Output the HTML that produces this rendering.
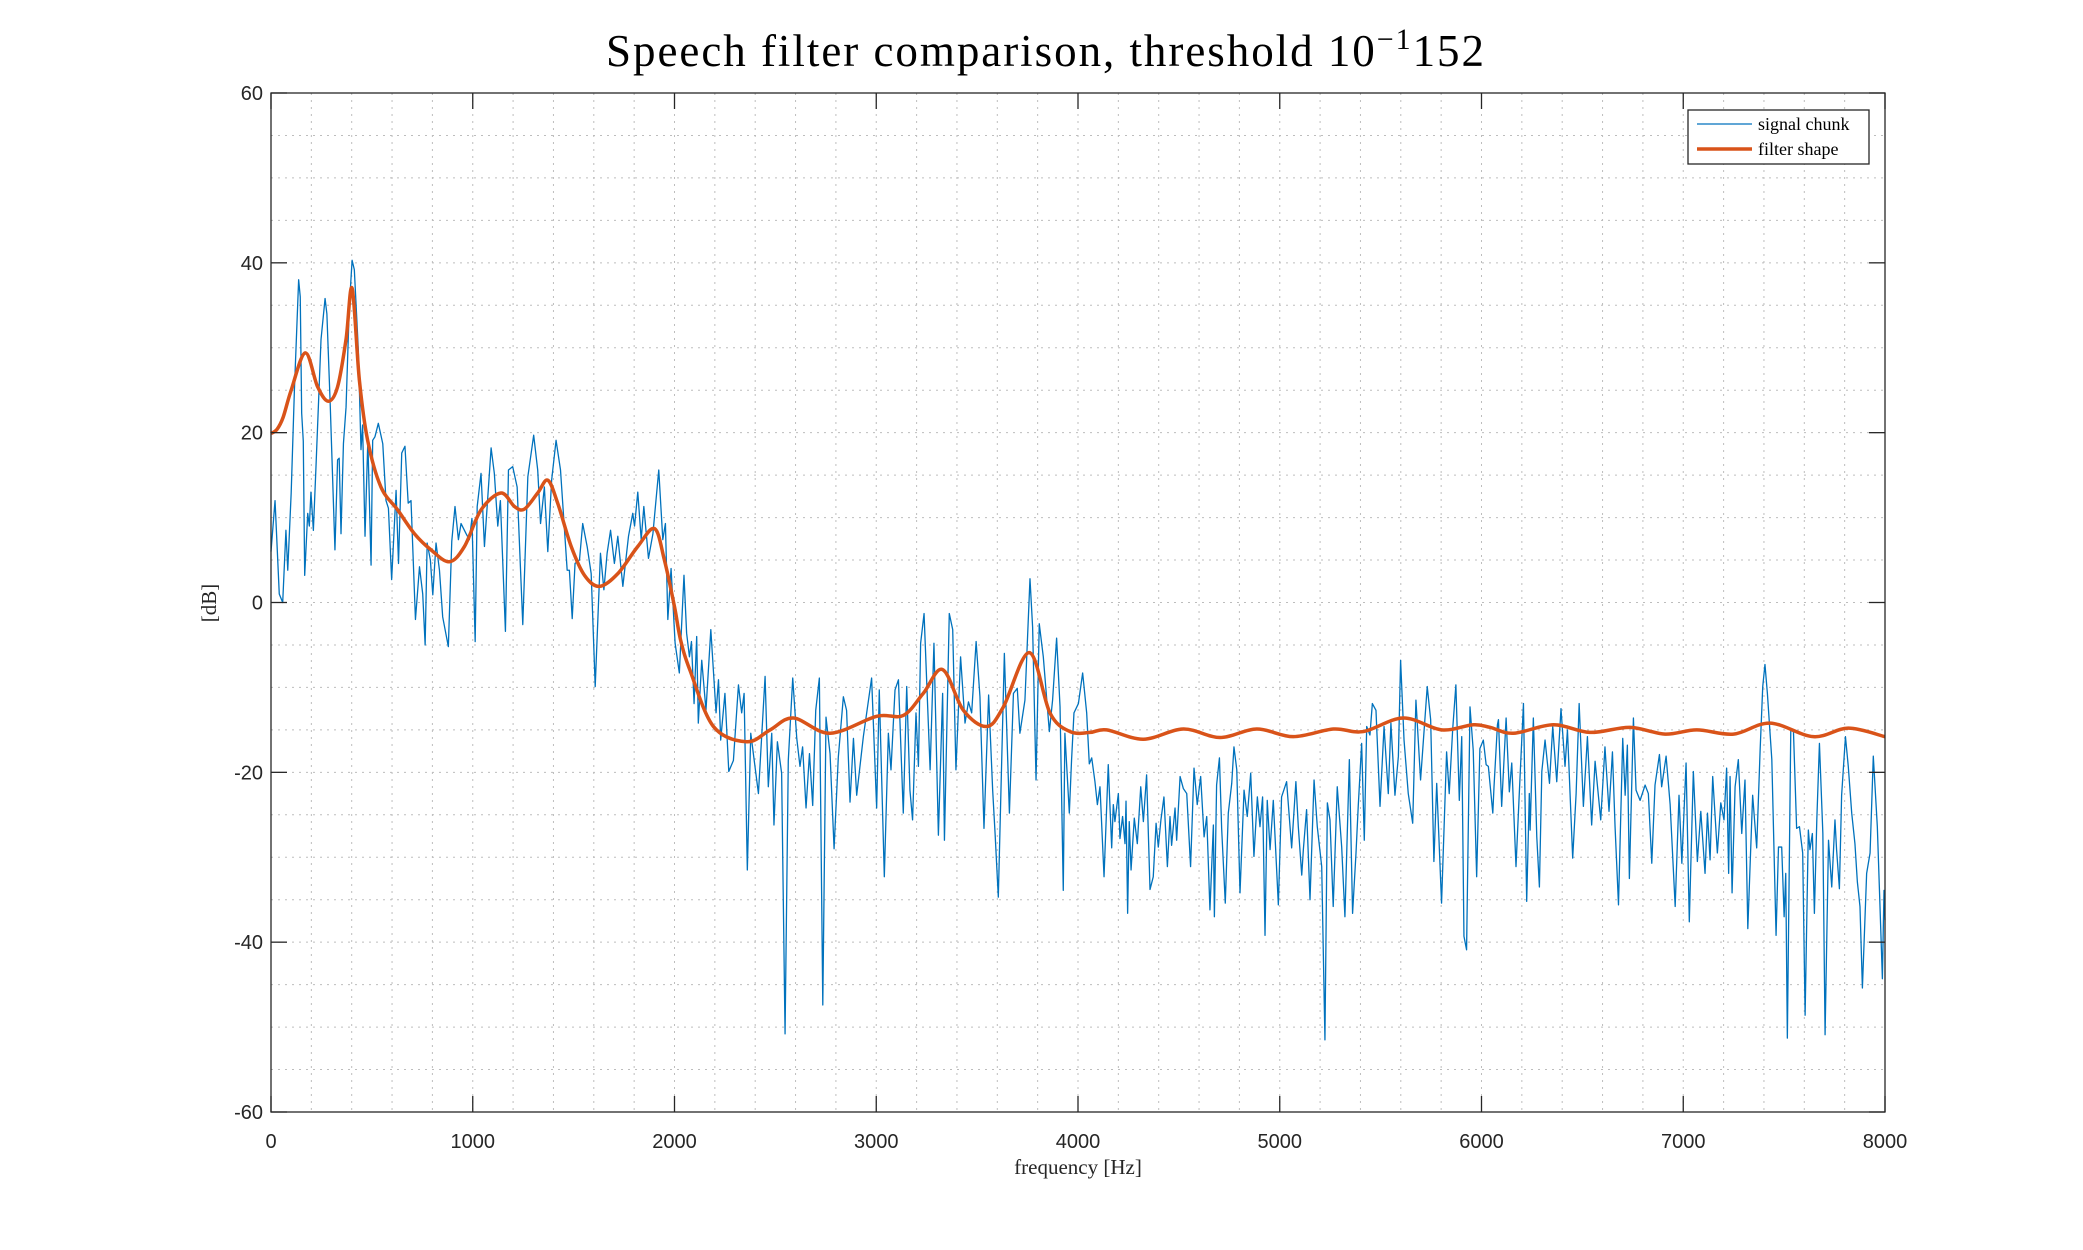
<!DOCTYPE html>
<html><head><meta charset="utf-8"><style>
html,body{margin:0;padding:0;background:#fff;}
svg{display:block;}
</style></head><body>
<svg id="chart" width="2083" height="1250" viewBox="0 0 2083 1250" xmlns="http://www.w3.org/2000/svg">
<rect x="0" y="0" width="2083" height="1250" fill="#fff"/>
<text x="606" y="66" textLength="878" lengthAdjust="spacing" font-family="Liberation Serif, serif" font-size="45" fill="#000">Speech filter comparison, threshold 10<tspan dy="-17" font-size="30">−1</tspan><tspan dy="17">152</tspan></text>
<g id="grid"></g>
<g id="series"></g>
<g id="axes"></g>
<text x="1078" y="1174" text-anchor="middle" font-family="Liberation Serif, serif" font-size="21" fill="#262626">frequency [Hz]</text>
<text transform="translate(216,603) rotate(-90)" text-anchor="middle" font-family="Liberation Serif, serif" font-size="21" fill="#262626">[dB]</text>
<g>
<rect x="1688" y="110" width="181" height="54" fill="#fff" stroke="#262626" stroke-width="1.3"/>
<line x1="1697" y1="124" x2="1752" y2="124" stroke="#0072BD" stroke-width="1.3"/>
<text x="1758" y="130" font-family="Liberation Serif, serif" font-size="18" fill="#000">signal chunk</text>
<line x1="1697" y1="149" x2="1752" y2="149" stroke="#D95319" stroke-width="3.5"/>
<text x="1758" y="155" font-family="Liberation Serif, serif" font-size="18" fill="#000">filter shape</text>
</g>
</svg>
<script>
const xTicks=[0,1000,2000,3000,4000,5000,6000,7000,8000];
const yTicks=[-60,-40,-20,0,20,40,60];
const sigFreq=[0,20,41,58,74,83,100,116,137,145,152,160,167,182,190,198,210,223,248,268,277,294,317,330,338,347,359,372,388,402,413,433,446,454,466,480,496,504,515,532,554,570,582,598,620,632,648,664,680,694,716,736,752,764,774,790,802,818,835,851,879,896,912,929,942,967,983,996,1012,1022,1041,1058,1091,1107,1124,1137,1162,1177,1198,1220,1248,1273,1302,1322,1336,1355,1372,1391,1413,1435,1468,1479,1493,1507,1529,1545,1567,1587,1607,1633,1650,1666,1683,1702,1719,1744,1772,1793,1802,1818,1835,1848,1871,1893,1922,1942,1955,1967,1983,2003,2024,2047,2060,2074,2084,2097,2110,2118,2135,2156,2180,2206,2218,2229,2250,2269,2292,2317,2333,2345,2361,2378,2416,2449,2465,2482,2493,2510,2531,2548,2564,2586,2606,2622,2635,2652,2669,2685,2700,2718,2735,2751,2771,2791,2812,2837,2853,2870,2887,2903,2936,2977,3002,3015,3040,3060,3073,3093,3110,3134,3151,3167,3180,3197,3209,3220,3237,3267,3286,3308,3329,3338,3362,3379,3395,3418,3440,3457,3473,3495,3514,3534,3557,3577,3589,3605,3635,3660,3680,3699,3712,3737,3762,3775,3792,3808,3828,3858,3874,3894,3911,3927,3935,3957,3968,3980,4002,4023,4043,4056,4068,4084,4096,4109,4129,4150,4167,4175,4183,4200,4208,4221,4233,4238,4246,4254,4263,4279,4294,4311,4324,4340,4357,4373,4387,4398,4411,4426,4443,4456,4464,4481,4489,4506,4522,4539,4558,4575,4591,4608,4625,4638,4654,4671,4676,4687,4701,4712,4730,4745,4762,4773,4787,4803,4823,4839,4856,4872,4889,4902,4915,4927,4938,4952,4968,4993,5009,5034,5059,5080,5092,5109,5117,5133,5150,5170,5186,5208,5224,5236,5249,5265,5285,5307,5323,5345,5361,5378,5389,5406,5419,5431,5447,5459,5477,5497,5517,5538,5551,5571,5588,5599,5616,5637,5659,5675,5698,5731,5748,5764,5778,5802,5827,5840,5857,5873,5890,5902,5913,5926,5943,5959,5976,5992,6009,6023,6034,6056,6062,6079,6084,6100,6122,6138,6150,6171,6188,6208,6224,6237,6241,6257,6274,6287,6299,6315,6337,6353,6373,6394,6414,6426,6452,6469,6484,6505,6525,6546,6563,6591,6612,6632,6649,6662,6679,6700,6712,6723,6733,6753,6766,6786,6811,6827,6844,6860,6882,6893,6915,6935,6960,6979,6993,7014,7030,7050,7070,7087,7108,7120,7133,7146,7169,7186,7202,7215,7225,7232,7242,7257,7273,7290,7306,7320,7344,7364,7381,7394,7405,7417,7439,7460,7472,7488,7500,7508,7516,7533,7546,7562,7576,7592,7604,7620,7628,7640,7650,7662,7675,7692,7703,7720,7736,7752,7760,7774,7785,7804,7818,7835,7851,7863,7876,7888,7909,7926,7942,7962,7972,7987,7995,8000];
const sigDb=[6,12,1,0,8.5,3.8,12.9,25,38,36,22.3,19,3.2,10.5,9,13,8.5,16,31,35.8,34,23,6.2,16.8,17,8.1,18.7,23,34.8,40.3,39.2,29.7,18,20.9,7.8,19.1,4.4,19.1,19.5,21.1,18.7,12,11.1,2.7,13.2,4.6,17.6,18.4,11.7,12,-2,4.2,1,-5,7,5,0.9,7,3.8,-1.7,-5.2,7.2,11.3,7.4,9.3,8.1,7.4,9.9,-4.6,11.3,15.2,6.6,18.2,15.2,9,12,-3.4,15.6,16,13.6,-2.6,14.8,19.7,15.6,9.3,13.6,6,14.4,19.1,15.6,3.8,3.8,-1.9,4.6,5,9.3,6.6,3.4,-9.9,5.8,1.5,5.8,8.5,4.6,7.8,1.9,7.8,10.5,9,13,7.4,11.3,5.2,8.1,15.6,7.4,9.3,-2,4,-4.8,-8.3,3.2,-3.6,-6.4,-4.6,-11.9,-4,-14.2,-6.8,-12.7,-3.2,-13,-9.1,-16.2,-10.7,-19.9,-18.6,-9.7,-13,-10.7,-31.5,-15.4,-22.5,-8.7,-21.7,-15.4,-26.2,-16.4,-20.1,-50.8,-18.6,-8.9,-16,-19.3,-17,-24.2,-17.8,-23.9,-12.7,-8.9,-47.4,-13.5,-17.8,-29,-18.2,-11.1,-12.7,-23.5,-16,-22.7,-15.8,-8.9,-24.2,-10.3,-32.3,-15.4,-19.7,-10.3,-9.1,-24.8,-9.9,-22.1,-25.6,-13,-19.3,-4.8,-1.3,-19.7,-4.8,-27.4,-10.7,-28,-1.3,-3.2,-19.7,-6.4,-14.2,-11.7,-13,-4.6,-11.1,-26.6,-10.9,-22.1,-27.2,-34.7,-6,-24.8,-10.7,-10.1,-15.4,-11.5,2.8,-2.9,-20.9,-2.5,-6.4,-15.2,-11.5,-4.2,-12.3,-33.9,-15.4,-24.8,-18.6,-13,-11.9,-8.3,-13,-19,-18.3,-21.1,-23.8,-21.7,-32.3,-19.1,-28.9,-23.8,-25.8,-22.5,-27.8,-25.2,-28.4,-23.4,-36.6,-25.8,-31.5,-25.4,-28.4,-21.7,-25.8,-20.3,-33.8,-32.3,-26,-28.8,-25.6,-22.9,-31.1,-25.2,-28.6,-24.2,-28,-20.5,-21.9,-22.5,-31.1,-19.5,-23.8,-20.5,-27.6,-25.2,-36.2,-26.2,-37,-21.5,-18.3,-26.6,-35.4,-24.8,-21.3,-17,-19.7,-34.2,-22.1,-25.2,-20.1,-29.9,-22.9,-26.4,-22.9,-39.2,-23.3,-29.1,-23.3,-35.6,-22.9,-21.1,-28.9,-21.1,-26.4,-32.1,-29.1,-24.4,-35,-20.9,-26.4,-31.1,-51.5,-23.6,-25.6,-35.8,-21.7,-28.8,-37,-18.5,-36.6,-29.5,-24,-16.6,-28,-14.6,-15.6,-11.9,-12.7,-24,-14.6,-22.5,-14.2,-22.7,-18.1,-6.8,-16.2,-22.5,-26,-11.5,-20.9,-9.9,-13.8,-30.5,-21.3,-35.4,-17.6,-22.5,-15,-9.7,-23.3,-15.8,-39.3,-40.9,-12.3,-17.4,-32.3,-17.2,-16.2,-19.1,-19.3,-24.8,-21.7,-14.4,-13.8,-24,-13.6,-22.3,-18.9,-31.1,-22.1,-11.9,-35.2,-22.5,-26.8,-13.6,-27.6,-33.5,-19.9,-16.2,-21.3,-14.6,-21.1,-12.5,-19.3,-15,-30.1,-22.5,-11.9,-24,-15.8,-26.2,-18.7,-25.6,-17,-24.6,-17.6,-26.4,-35.6,-16,-22.7,-16.8,-32.5,-13.6,-22.1,-23.3,-21.5,-22.5,-30.7,-21.5,-17.9,-21.7,-18.1,-23.8,-35.8,-22.7,-30.7,-18.9,-37.6,-19.9,-30.5,-24.6,-31.9,-24.8,-30.3,-20.5,-29.5,-23.6,-25.6,-19.5,-31.9,-20.5,-34.2,-21.7,-18.5,-27.2,-20.9,-38.4,-22.7,-28.9,-17.4,-9.9,-7.3,-10.7,-18.5,-39.2,-28.8,-28.8,-37,-31.9,-51.3,-15,-15,-26.6,-26.4,-29.5,-48.6,-26.8,-29.1,-27.2,-36.6,-25.6,-16.6,-27.2,-50.9,-28,-33.5,-25.6,-29.1,-33.7,-22.7,-15.8,-19.3,-24.8,-28.4,-32.9,-35.8,-45.4,-31.9,-29.5,-18.1,-26.4,-33.5,-44.3,-33.9,-37.4];
const filtFreq=[0,30,60,100,170,231,284,330,372,402,438,479,545,628,711,793,884,959,1041,1140,1207,1256,1322,1372,1421,1488,1554,1628,1719,1818,1901,1950,2000,2030,2077,2193,2358,2474,2589,2771,3002,3134,3233,3329,3432,3547,3630,3759,3861,3960,4060,4142,4324,4522,4704,4886,5067,5266,5414,5612,5802,5959,6042,6158,6356,6538,6736,6910,7067,7249,7430,7645,7818,8000];
const filtDb=[19.9,20.4,21.8,25,29.4,25.4,23.7,25.4,31,37,26.2,19.1,13.6,10.9,8.1,6.2,4.8,6.6,10.9,12.9,11.3,11,12.9,14.4,11.7,6.6,3.2,1.9,3.4,6.6,8.7,5,-0.5,-4.4,-8,-14.6,-16.4,-15,-13.6,-15.4,-13.4,-13.3,-10.7,-7.9,-12.7,-14.6,-12.3,-5.9,-13,-15.2,-15.3,-15,-16.1,-14.9,-15.9,-14.9,-15.8,-14.9,-15.2,-13.6,-15,-14.4,-14.7,-15.4,-14.4,-15.3,-14.7,-15.5,-15,-15.5,-14.2,-15.8,-14.8,-15.8];

const NS='http://www.w3.org/2000/svg';
const L=271,R=1885,T=93,B=1112;
const xMin=0,xMax=8000,yMin=-60,yMax=60;
function sx(v){return L+(v-xMin)/(xMax-xMin)*(R-L);}
function sy(v){return B-(v-yMin)/(yMax-yMin)*(B-T);}
function mk(tag,attrs,parent){const e=document.createElementNS(NS,tag);for(const k in attrs)e.setAttribute(k,attrs[k]);parent.appendChild(e);return e;}
const grid=document.getElementById('grid'),series=document.getElementById('series'),axes=document.getElementById('axes');

for(let f=xMin+200;f<xMax;f+=200){
  const g=mk('line',{x1:sx(f),x2:sx(f),y1:T,y2:B,stroke:'#bdbdbd','stroke-width':1,'stroke-dasharray':'2,5'},grid);
  
  
}
for(let d=yMin+5;d<yMax;d+=5){
  const g=mk('line',{x1:L,x2:R,y1:sy(d),y2:sy(d),stroke:'#bdbdbd','stroke-width':1,'stroke-dasharray':'2,5'},grid);
  
  
}

let p='';
for(let i=0;i<sigFreq.length;i++){p+=(i?'L':'M')+sx(sigFreq[i]).toFixed(2)+','+sy(sigDb[i]).toFixed(2);}
const sig=mk('path',{d:p,fill:'none',stroke:'#0072BD','stroke-width':1.3,'stroke-linejoin':'round'},series);



const pts=filtFreq.map((f,i)=>[sx(f),sy(filtDb[i])]);
let q='M'+pts[0][0]+','+pts[0][1];
for(let i=0;i<pts.length-1;i++){
  const p0=pts[Math.max(0,i-1)],p1=pts[i],p2=pts[i+1],p3=pts[Math.min(pts.length-1,i+2)];
  const c1=[p1[0]+(p2[0]-p0[0])/6,p1[1]+(p2[1]-p0[1])/6];
  const c2=[p2[0]-(p3[0]-p1[0])/6,p2[1]-(p3[1]-p1[1])/6];
  q+='C'+c1[0].toFixed(2)+','+c1[1].toFixed(2)+' '+c2[0].toFixed(2)+','+c2[1].toFixed(2)+' '+p2[0].toFixed(2)+','+p2[1].toFixed(2);
}
const filt=mk('path',{d:q,fill:'none',stroke:'#D95319','stroke-width':3.5,'stroke-linejoin':'round'},series);



const box=mk('rect',{x:L,y:T,width:R-L,height:B-T,fill:'none',stroke:'#262626','stroke-width':1.3},axes);


const tl=16;
xTicks.forEach(v=>{
  const x=sx(v);
  mk('line',{x1:x,x2:x,y1:B,y2:B-tl,stroke:'#262626','stroke-width':1.3},axes);
  mk('line',{x1:x,x2:x,y1:T,y2:T+tl,stroke:'#262626','stroke-width':1.3},axes);
  const t=mk('text',{x:x,y:B+36,'text-anchor':'middle','font-family':'Liberation Sans, sans-serif','font-size':20,fill:'#262626'},axes);
  t.textContent=String(v);
  
  
});
yTicks.forEach(v=>{
  const y=sy(v);
  mk('line',{x1:L,x2:L+tl,y1:y,y2:y,stroke:'#262626','stroke-width':1.3},axes);
  mk('line',{x1:R,x2:R-tl,y1:y,y2:y,stroke:'#262626','stroke-width':1.3},axes);
  const t=mk('text',{x:L-8,y:y+7,'text-anchor':'end','font-family':'Liberation Sans, sans-serif','font-size':20,fill:'#262626'},axes);
  t.textContent=String(v);
  
  
});
</script>
</body></html>
